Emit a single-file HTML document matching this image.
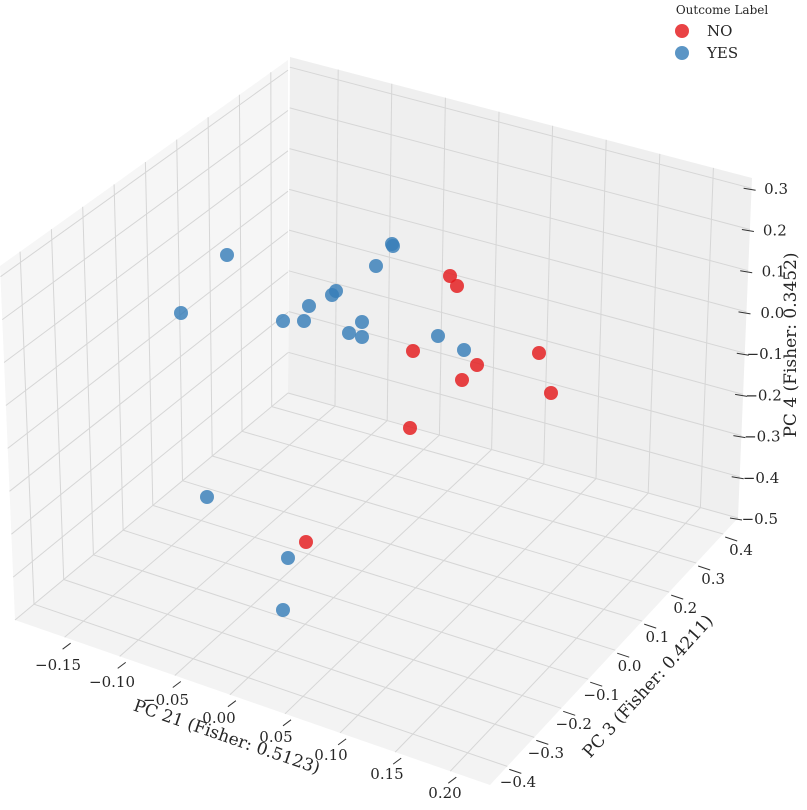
<!DOCTYPE html>
<html><head><meta charset="utf-8"><style>
html,body{margin:0;padding:0;background:#fff}
svg{display:block;font-family:"DejaVu Serif","Liberation Serif",serif}
</style></head><body>
<svg id="s" width="807" height="810" viewBox="0 0 807 810" xmlns="http://www.w3.org/2000/svg"></svg>
<script>
const S=document.getElementById('s');let h='';
function bil(c,u,v){
 const x=(1-u)*(1-v)*c[0][0]+u*(1-v)*c[1][0]+u*v*c[2][0]+(1-u)*v*c[3][0];
 const y=(1-u)*(1-v)*c[0][1]+u*(1-v)*c[1][1]+u*v*c[2][1]+(1-u)*v*c[3][1];return [x,y];}
function poly(c,f){h+=`<polygon points="${c.map(p=>p.join(',')).join(' ')}" fill="${f}"/>`;}
function line(a,b,col,w){h+=`<line x1="${a[0].toFixed(1)}" y1="${a[1].toFixed(1)}" x2="${b[0].toFixed(1)}" y2="${b[1].toFixed(1)}" stroke="${col}" stroke-width="${w}"/>`;}
const xmin=-0.195,xmax=0.236,ymin=-0.464,ymax=0.455,zmin=-0.5,zmax=0.325;
const xt=[-0.15,-0.1,-0.05,0,0.05,0.1,0.15,0.2],yt=[-0.4,-0.3,-0.2,-0.1,0,0.1,0.2,0.3,0.4],zt=[0.3,0.2,0.1,0,-0.1,-0.2,-0.3,-0.4,-0.5];
const fx=v=>(v-xmin)/(xmax-xmin),fy=v=>(v-ymin)/(ymax-ymin),fz=v=>(v-zmin)/(zmax-zmin);
const F=[[15,620],[490,785],[738,518],[288,393]];
const R=[[288,393],[738,518],[752,178],[290,57]];
const L=[[15,620],[288,393],[288,60],[0,266]];
poly(L,'#f6f6f6');poly(R,'#efefef');poly(F,'#f3f3f3');
const g='#d6d6d6';
xt.forEach(x=>{line(bil(F,fx(x),0),bil(F,fx(x),1),g,1);line(bil(R,fx(x),0),bil(R,fx(x),1),g,1);});
yt.forEach(y=>{line(bil(F,0,fy(y)),bil(F,1,fy(y)),g,1);line(bil(L,fy(y),0),bil(L,fy(y),1),g,1);});
zt.forEach(z=>{line(bil(R,0,fz(z)),bil(R,1,fz(z)),g,1);line(bil(L,0,fz(z)),bil(L,1,fz(z)),g,1);});
xt.forEach(x=>{const p=bil(F,fx(x),0);line([p[0]-2,p[1]+12],[p[0]+6,p[1]+6],'#333',1);});
yt.forEach(y=>{const p=bil(F,1,fy(y));line([p[0]+2,p[1]+3],[p[0]+14,p[1]+7],'#333',1);});
zt.forEach(z=>{const p=bil(R,1,fz(z));line([p[0]-8,p[1]],[p[0]+4,p[1]+2],'#333',1);});
const xl=[[58,665],[112,682],[166,700],[219,718],[276,737],[331,755],[387,774],[445,793]];
xt.forEach((x,i)=>{h+=`<text x="${xl[i][0]}" y="${xl[i][1]+5}" font-size="15" fill="#262626" text-anchor="middle">${x<0?'−':''}${Math.abs(x).toFixed(2)}</text>`;});
yt.forEach((y,i)=>{const t=i/8;const cx=518+t*(741-518),cy=782+t*(550-782);h+=`<text x="${cx}" y="${cy+5}" font-size="15" fill="#262626" text-anchor="middle">${y<0?'−':''}${Math.abs(y).toFixed(1)}</text>`;});
zt.forEach((z,i)=>{const t=i/8;const ex=788-t*10,cy=189+t*(519-189);h+=`<text x="${ex}" y="${cy+5}" font-size="15" fill="#262626" text-anchor="end">${z<0?'−':''}${Math.abs(z).toFixed(1)}</text>`;});
h+=`<text transform="translate(225,742) rotate(19)" font-size="17" fill="#262626" text-anchor="middle">PC 21 (Fisher: 0.5123)</text>`;
h+=`<text transform="translate(652,690) rotate(-48)" font-size="17" fill="#262626" text-anchor="middle">PC 3 (Fisher: 0.4211)</text>`;
h+=`<text transform="translate(796,345) rotate(-90)" font-size="17" fill="#262626" text-anchor="middle">PC 4 (Fisher: 0.3452)</text>`;
const B=[[227,255],[181,313],[283,321],[304,321],[309,306],[332,295],[336,291],[392,244],[393,246],[376,266],[349,333],[362,322],[362,337],[438,336],[464,350],[207,497],[288,558],[283,610]];
const Rd=[[450,276],[457,286],[413,351],[477,365],[462,380],[539,353],[551,393],[410,428],[306,542]];
B.forEach(p=>h+=`<circle cx="${p[0]}" cy="${p[1]}" r="7" fill="#377eb8" fill-opacity="0.82"/>`);
Rd.forEach(p=>h+=`<circle cx="${p[0]}" cy="${p[1]}" r="7" fill="#e41a1c" fill-opacity="0.82"/>`);
h+=`<text x="722" y="14" font-size="12" fill="#262626" text-anchor="middle">Outcome Label</text>`;
h+=`<circle cx="682" cy="31" r="7" fill="#e41a1c" fill-opacity="0.82"/><text x="707" y="36" font-size="15" fill="#262626">NO</text>`;
h+=`<circle cx="682" cy="53" r="7" fill="#377eb8" fill-opacity="0.82"/><text x="707" y="58" font-size="15" fill="#262626">YES</text>`;
S.innerHTML=h;
</script>
</body></html>
